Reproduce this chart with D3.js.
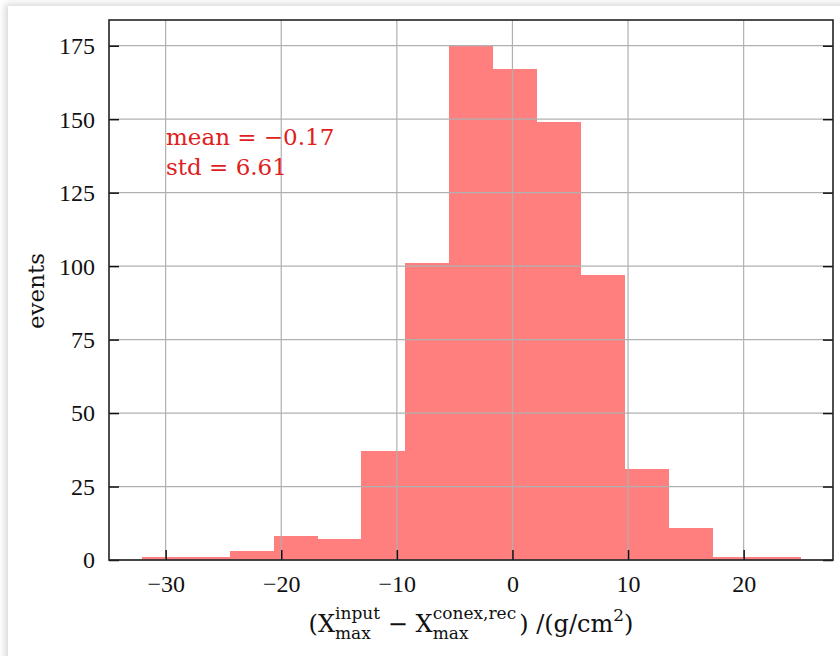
<!DOCTYPE html>
<html lang="en">
  <head>
    <meta charset="utf-8">
    <script src="https://d3js.org/d3.v7.min.js"></script>
    <style>
      html, body { margin: 0; padding: 0; background: #ffffff; }
      #card {
        position: absolute; left: 8px; top: 6px;
        width: 840px; height: 660px; background: #fff;
        box-shadow: -3px -2px 7px rgba(0,0,0,0.16);
      }
      svg { position: absolute; left: 0; top: 0; }
    </style>
  </head>
  <body>
    <div id="card"></div>
    <svg width="840" height="656"></svg>
    <script>
      // histogram bin edges and counts
      var binEdges = [-32.05, -28.25, -24.46, -20.66, -16.87, -13.07, -9.28, -5.48,
                      -1.69, 2.11, 5.90, 9.70, 13.49, 17.29, 21.08, 24.88];
      var counts = [1, 1, 3, 8, 7, 37, 101, 175, 167, 149, 97, 31, 11, 1, 1];
      var xTicks = [-30, -20, -10, 0, 10, 20];
      var yTicks = [0, 25, 50, 75, 100, 125, 150, 175];
      var statLines = ["mean = \u22120.17", "std = 6.61"];

      var svg = d3.select("svg");
      var tickFont = "'Liberation Serif', serif";
      var labelFont = "'DejaVu Serif', serif";
      var pLeft = 109, pRight = 833, pTop = 20, pBottom = 560;

      var bins = counts.map(function(c, i) {
        return {x0: binEdges[i], x1: binEdges[i + 1], n: c};
      });

      var x = d3.scaleLinear().domain([-34.90, 27.73]).range([pLeft, pRight]);
      var y = d3.scaleLinear().domain([0, 183.75]).range([pBottom, pTop]);

      // bars
      svg.append("g")
        .attr("shape-rendering", "crispEdges")
        .selectAll("rect")
        .data(bins)
        .enter().append("rect")
          .attr("x", function(d) { return x(d.x0); })
          .attr("width", function(d) { return x(d.x1) - x(d.x0) + 0.5; })
          .attr("y", function(d) { return y(d.n); })
          .attr("height", function(d) { return y(0) - y(d.n); })
          .attr("fill", "#ff7f7f");

      // grid (drawn above bars)
      var grid = svg.append("g").attr("stroke", "#b0b0b0").attr("stroke-width", 1.2);
      grid.selectAll(".gx").data(xTicks).enter().append("line")
        .attr("x1", function(d) { return x(d); }).attr("x2", function(d) { return x(d); })
        .attr("y1", pTop).attr("y2", pBottom);
      grid.selectAll(".gy").data(yTicks).enter().append("line")
        .attr("y1", function(d) { return y(d); }).attr("y2", function(d) { return y(d); })
        .attr("x1", pLeft).attr("x2", pRight);

      // axes with inward ticks
      var xAxis = d3.axisBottom(x).tickValues(xTicks).tickSizeInner(-10).tickSizeOuter(0)
        .tickPadding(14).tickFormat(function(d) { return d < 0 ? "\u2212" + Math.abs(d) : d; });
      var yAxis = d3.axisLeft(y).tickValues(yTicks).tickSizeInner(-10).tickSizeOuter(0)
        .tickPadding(14);
      var yAxisR = d3.axisRight(y).tickValues(yTicks).tickSizeInner(-10).tickSizeOuter(0)
        .tickFormat("");

      function styleAxis(g) {
        g.select(".domain").remove();
        g.selectAll(".tick line").attr("stroke", "#111").attr("stroke-width", 1.5);
        g.selectAll("text").attr("fill", "#111").style("font-family", tickFont).style("font-size", "24px");
      }
      svg.append("g").attr("transform", "translate(0," + pBottom + ")").call(xAxis).call(styleAxis)
        .selectAll("text").attr("dy", "0.75em");
      svg.append("g").attr("transform", "translate(" + pLeft + ",0)").call(yAxis).call(styleAxis)
        .selectAll("text").attr("dy", "0.33em");
      svg.append("g").attr("transform", "translate(" + pRight + ",0)").call(yAxisR).call(styleAxis);

      // frame
      svg.append("rect")
        .attr("x", pLeft).attr("y", pTop).attr("width", pRight - pLeft).attr("height", pBottom - pTop)
        .attr("fill", "none").attr("stroke", "#222").attr("stroke-width", 1.6);

      // stats text
      svg.append("g").selectAll("text").data(statLines).enter().append("text")
        .attr("x", 166).attr("y", function(d, i) { return 145 + i * 30; })
        .attr("fill", "#e0201c")
        .style("font-family", labelFont).style("font-size", "23px")
        .text(function(d) { return d; });

      // y label
      svg.append("text")
        .attr("transform", "translate(44,291) rotate(-90)")
        .attr("text-anchor", "middle")
        .attr("fill", "#111")
        .style("font-family", labelFont).style("font-size", "23px")
        .text("events");

      // x label with sub/superscripts
      var lab = svg.append("g").attr("fill", "#111").style("font-family", labelFont);
      var cx = 0, base = 632;
      function piece(t, size, dy) {
        var el = lab.append("text").attr("x", cx).attr("y", base + dy)
          .style("font-size", size + "px").text(t);
        return el.node().getComputedTextLength();
      }
      function scripts(sup, sub) {
        var w1 = piece(sup, 17, -13);
        var w2 = piece(sub, 17, 7);
        cx += Math.max(w1, w2) + 3;
      }
      cx += piece("(X", 24, 0);
      scripts("input", "max");
      cx += piece("\u2009\u2212 X", 24, 0);
      scripts("conex,rec", "max");
      cx += piece(") /(g/cm", 24, 0);
      cx += piece("2", 17, -11);
      cx += piece(")", 24, 0);
      lab.attr("transform", "translate(" + ((pLeft + pRight) / 2 - cx / 2) + ",0)");
    </script>
  </body>
</html>
